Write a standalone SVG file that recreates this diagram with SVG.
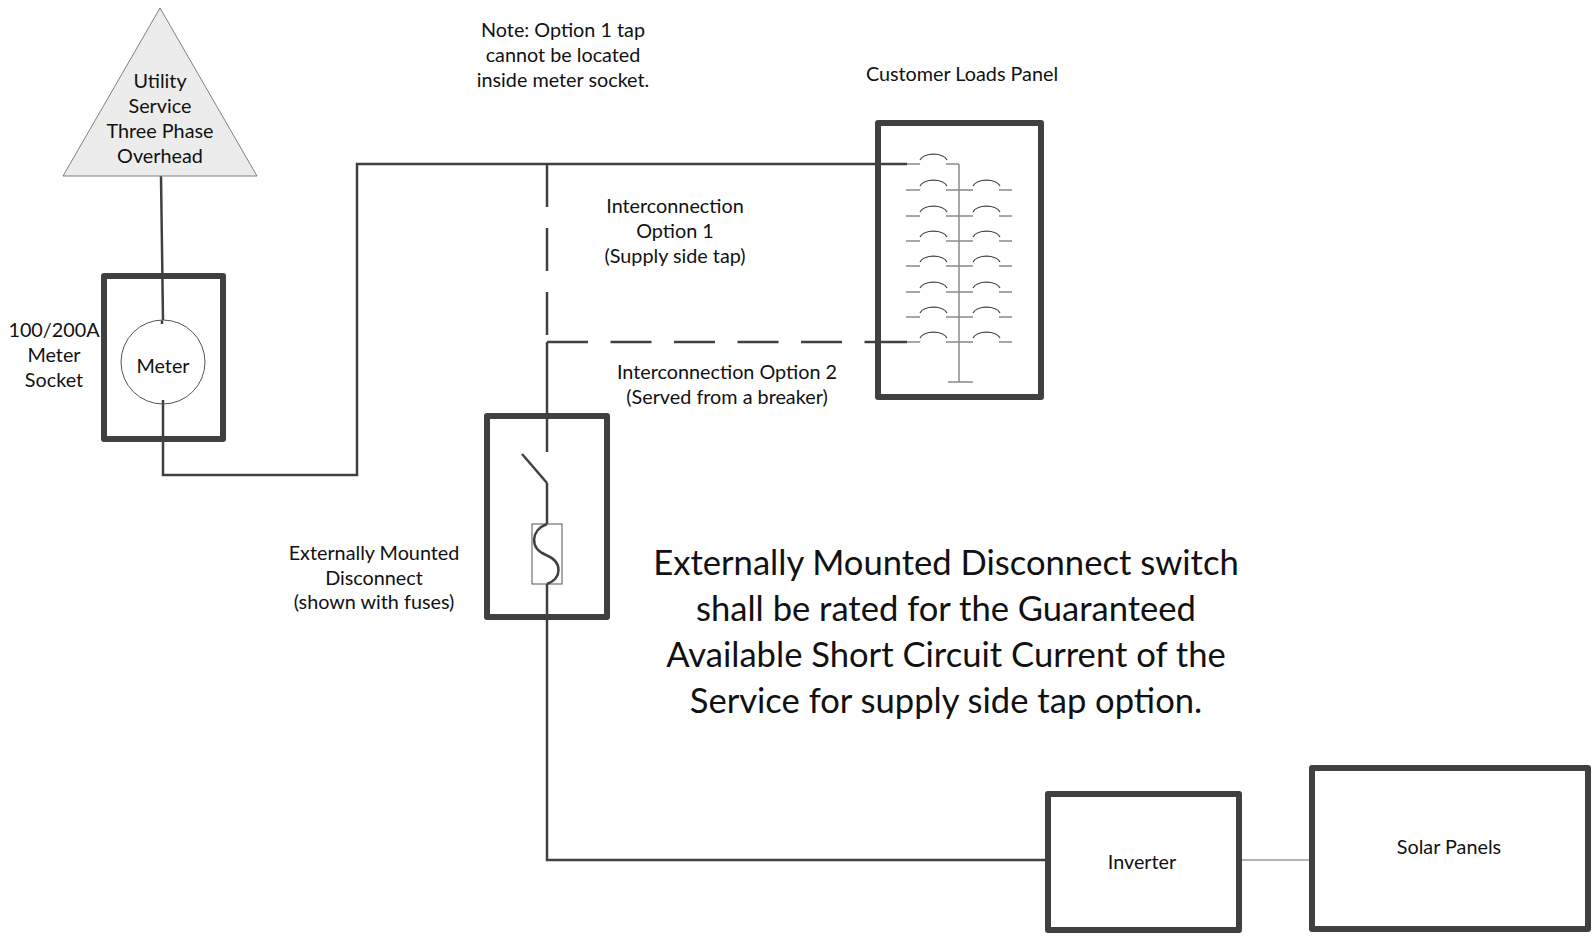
<svg xmlns="http://www.w3.org/2000/svg" width="1593" height="939" viewBox="0 0 1593 939">
<style>
text{font-family:Lato,"Open Sans","Liberation Sans",sans-serif;fill:#111;text-anchor:middle}
.s{font-size:19.8px}
.big{font-size:34.6px}
.box{fill:#fff;stroke:#404040;stroke-width:6;stroke-linejoin:round}
.frame{fill:none;stroke:#404040;stroke-width:6;stroke-linejoin:round}
.w{fill:none;stroke:#404040;stroke-width:2.5}
.dv{fill:none;stroke:#404040;stroke-width:2.5;stroke-dasharray:43 21}
.dh{fill:none;stroke:#404040;stroke-width:2.5;stroke-dasharray:41 22.5}
.stub{fill:none;stroke:#8a8a8a;stroke-width:1.5}
.arc{fill:none;stroke:#404040;stroke-width:1.2}
</style>
<defs>
<g id="brk">
<path class="stub" d="M0,0H14M40,0H53"/>
<path class="arc" d="M14,-4A14 8 0 0 1 41,-4"/>
</g>
</defs>

<g id="connectors">
<path class="w" d="M161,176L163,320"/>
<path class="w" d="M163,404V475H357V164H907"/>
<path class="dv" d="M547,164V342"/>
<path class="dh" d="M547,342H878"/>
<path class="w" d="M878,342H907"/>
<path class="w" d="M547,342V452"/>
<path class="w" d="M547,483V524"/>
<path class="w" d="M547,584V860H1048"/>
<path fill="none" stroke="#9a9a9a" stroke-width="1.5" d="M1239,860H1312"/>
</g>

<g id="utility">
<polygon points="160,8 63,176 257,176" fill="#ececec" stroke="#7f7f7f" stroke-width="1"/>
<text class="s" x="160" y="88">Utility</text>
<text class="s" x="160" y="113">Service</text>
<text class="s" x="160" y="138">Three Phase</text>
<text class="s" x="160" y="163">Overhead</text>
</g>

<g id="meter-socket">
<rect class="frame" x="104" y="276" width="119" height="163"/>
<circle cx="163" cy="362" r="42" fill="#fff" stroke="#555" stroke-width="1"/>
<path class="w" d="M162,320.5V324M163,400V404"/>
<text class="s" x="163" y="373">Meter</text>
<text class="s" x="54" y="337">100/200A</text>
<text class="s" x="54" y="362">Meter</text>
<text class="s" x="54" y="387">Socket</text>
</g>

<g id="note">
<text class="s" x="563" y="37">Note: Option 1 tap</text>
<text class="s" x="563" y="62">cannot be located</text>
<text class="s" x="563" y="87">inside meter socket.</text>
</g>

<g id="customer-panel">
<text class="s" x="962" y="81">Customer Loads Panel</text>
<rect class="box" x="878" y="123" width="163" height="274"/>
<path class="stub" d="M959,164V382M948,382H973"/>
<path class="stub" d="M907,164H920M946,164H959"/>
<path class="arc" d="M920,160A14 8 0 0 1 947,160"/>
<use href="#brk" x="906" y="190"/><use href="#brk" x="959" y="190"/>
<use href="#brk" x="906" y="216"/><use href="#brk" x="959" y="216"/>
<use href="#brk" x="906" y="241"/><use href="#brk" x="959" y="241"/>
<use href="#brk" x="906" y="266"/><use href="#brk" x="959" y="266"/>
<use href="#brk" x="906" y="292"/><use href="#brk" x="959" y="292"/>
<use href="#brk" x="906" y="317"/><use href="#brk" x="959" y="317"/>
<use href="#brk" x="906" y="342"/><use href="#brk" x="959" y="342"/>
<path class="w" d="M875,164H907M875,342H907"/>
</g>

<g id="labels">
<text class="s" x="675" y="213">Interconnection</text>
<text class="s" x="675" y="238">Option 1</text>
<text class="s" x="675" y="263">(Supply side tap)</text>
<text class="s" x="727" y="379">Interconnection Option 2</text>
<text class="s" x="727" y="404">(Served from a breaker)</text>
</g>

<g id="disconnect">
<rect class="frame" x="487" y="416" width="120" height="201"/>
<path class="w" d="M522,454L547,483"/>
<rect x="532" y="524" width="30" height="60" fill="none" stroke="#555" stroke-width="1"/>
<path class="w" d="M547,524C531,530 529,548 546,555C563,562 562,578 547,584"/>
<text class="s" x="374" y="560">Externally Mounted</text>
<text class="s" x="374" y="585">Disconnect</text>
<text class="s" x="374" y="609">(shown with fuses)</text>
</g>

<g id="note-big">
<text class="big" x="946" y="575">Externally Mounted Disconnect switch</text>
<text class="big" x="946" y="621">shall be rated for the Guaranteed</text>
<text class="big" x="946" y="667">Available Short Circuit Current of the</text>
<text class="big" x="946" y="713">Service for supply side tap option.</text>
</g>

<g id="inverter">
<rect class="box" x="1048" y="794" width="191" height="136"/>
<text class="s" x="1142" y="869">Inverter</text>
</g>

<g id="solar">
<rect class="box" x="1312" y="768" width="276" height="161"/>
<text class="s" x="1449" y="854">Solar Panels</text>
</g>
</svg>
